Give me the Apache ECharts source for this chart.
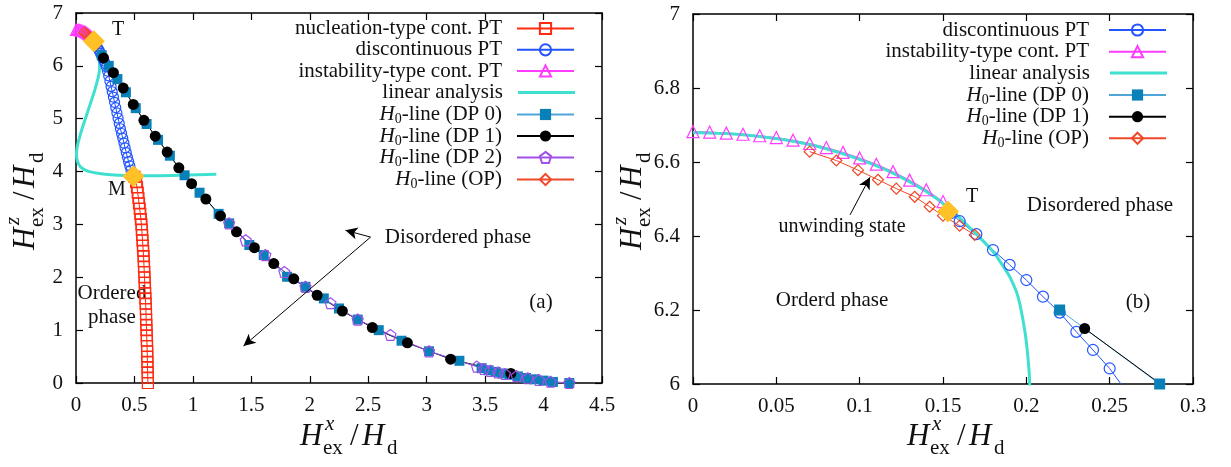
<!DOCTYPE html>
<html>
<head>
<meta charset="utf-8">
<script src="https://cdn.jsdelivr.net/npm/echarts@6/dist/echarts.min.js"></script>
<style>html,body{margin:0;padding:0;background:#fff}#c{width:1231px;height:467px}</style>
</head>
<body>
<div id="c"></div>
<script>
// ---------------- data ----------------
const nucleationPT = [[0.500,3.9],[0.515,3.8],[0.522,3.7],[0.528,3.6],[0.534,3.5],[0.539,3.4],[0.545,3.3],[0.550,3.2],[0.555,3.1],[0.560,3.0],[0.563,2.9],[0.566,2.8],[0.569,2.7],[0.572,2.6],[0.575,2.5],[0.578,2.4],[0.580,2.3],[0.582,2.2],[0.584,2.1],[0.586,2.0],[0.588,1.9],[0.590,1.8],[0.592,1.7],[0.594,1.6],[0.596,1.5],[0.598,1.4],[0.599,1.3],[0.600,1.2],[0.602,1.1],[0.603,1.0],[0.605,0.9],[0.606,0.8],[0.608,0.7],[0.609,0.6],[0.610,0.5],[0.611,0.4],[0.612,0.3],[0.613,0.2],[0.614,0.1],[0.615,0.0]];
const discontinuousPT = [[0.155,6.462],[0.16,6.44],[0.17,6.405],[0.18,6.362],[0.19,6.322],[0.20,6.281],[0.21,6.236],[0.22,6.193],[0.23,6.141],[0.24,6.092],[0.25,6.042],[0.26,5.98],[0.27,5.90],[0.28,5.81],[0.29,5.71],[0.30,5.61],[0.31,5.51],[0.32,5.41],[0.33,5.31],[0.34,5.21],[0.35,5.11],[0.36,5.01],[0.37,4.91],[0.38,4.81],[0.39,4.72],[0.40,4.63],[0.41,4.54],[0.42,4.45],[0.43,4.36],[0.44,4.27],[0.45,4.19],[0.46,4.11],[0.47,4.03],[0.48,3.96],[0.49,3.91]];
const instabilityPT = [[0,6.682],[0.01,6.681],[0.02,6.678],[0.03,6.675],[0.04,6.671],[0.05,6.666],[0.06,6.659],[0.07,6.650],[0.08,6.639],[0.09,6.626],[0.10,6.611],[0.11,6.594],[0.12,6.574],[0.13,6.551],[0.14,6.525],[0.15,6.493]];
const linearAnalysis = [[0,6.680],[0.02,6.677],[0.04,6.669],[0.06,6.656],[0.08,6.636],[0.10,6.607],[0.12,6.570],[0.14,6.520],[0.155,6.470],[0.17,6.405],[0.18,6.358],[0.185,6.326],[0.19,6.29],[0.195,6.236],[0.199,6.146],[0.201,6.07],[0.202,6.0],[0.200,5.9],[0.192,5.8],[0.178,5.68],[0.155,5.5],[0.125,5.3],[0.095,5.1],[0.068,4.92],[0.042,4.74],[0.022,4.58],[0.009,4.45],[0.004,4.33],[0.012,4.2],[0.038,4.09],[0.1,4.01],[0.2,3.965],[0.3,3.94],[0.49,3.92],[0.7,3.92],[0.9,3.93],[1.2,3.95]];
const h0DP0 = [[0.22,6.2],[0.28,6.0],[0.354,5.75],[0.427,5.5],[0.511,5.2],[0.604,4.9],[0.702,4.6],[0.803,4.3],[0.929,3.93],[1.057,3.6],[1.22,3.2],[1.31,3.02],[1.483,2.61],[1.606,2.42],[1.806,2.01],[1.963,1.82],[2.12,1.6],[2.25,1.41],[2.41,1.2],[2.59,1.0],[2.785,0.8],[3.02,0.6],[3.28,0.42],[3.47,0.28],[3.53,0.24],[3.59,0.21],[3.65,0.18],[3.71,0.155],[3.78,0.125],[3.85,0.095],[3.92,0.07],[4.0,0.045],[4.08,0.02],[4.22,0.0]];
const h0DP1 = [[0.235,6.15],[0.32,5.87],[0.404,5.58],[0.49,5.27],[0.581,4.97],[0.678,4.67],[0.78,4.37],[0.88,4.07],[0.989,3.77],[1.111,3.48],[1.236,3.16],[1.373,2.86],[1.526,2.56],[1.692,2.26],[1.863,1.97],[2.063,1.66],[2.279,1.36],[2.535,1.05],[2.835,0.76],[3.205,0.45],[3.72,0.18]];
const h0DP2 = [[1.31,3.02],[1.452,2.70],[1.62,2.42],[1.782,2.10],[1.963,1.82],[2.177,1.51],[2.41,1.20],[2.69,0.91],[3.02,0.60],[3.43,0.31],[3.49,0.265],[3.545,0.23],[3.61,0.20],[3.67,0.17],[3.77,0.13],[3.865,0.09],[3.96,0.057],[4.06,0.025],[4.22,0.0]];
const h0OP = [[0.070,6.628],[0.086,6.604],[0.099,6.578],[0.111,6.552],[0.122,6.528],[0.133,6.506],[0.142,6.479],[0.150,6.455],[0.160,6.428],[0.169,6.403]];
const pointT = [[0.153,6.466]];
const pointM = [[0.492,3.91]];
const arrowsA = [[[2.52,2.76],[2.305,2.89]],[[2.52,2.76],[1.433,0.70]]];
const arrowsB = [[[0.0942,6.457],[0.1062,6.559]]];

const axisA = {xMin:0, xMax:4.5, xStep:0.5, yMin:0, yMax:7, yStep:1};
const axisB = {xMin:0, xMax:0.3, xStep:0.05, yMin:6, yMax:7, yStep:0.2};

const legendA = ['nucleation-type cont. PT','discontinuous PT','instability-type cont. PT','linear analysis','H0-line (DP 0)','H0-line (DP 1)','H0-line (DP 2)','H0-line (OP)'];
const legendB = ['discontinuous PT','instability-type cont. PT','linear analysis','H0-line (DP 0)','H0-line (DP 1)','H0-line (OP)'];

// ---------------- styling ----------------
const FONT = "'Liberation Serif','DejaVu Serif',serif";
const C = {nuc:'#ff2a10', disc:'#2255ff', inst:'#ff3cff', lin:'#40e0d0', dp0:'#0a80b8', dp0l:'#4ea6d8', dp1:'#000000', dp2:'#a050e8', op:'#f04828', gold:'#ffc125'};
const PENT = 'path://M0,-10L9.51,-3.09L5.88,8.09L-5.88,8.09L-9.51,-3.09Z';
const CLEAR = 'rgba(255,255,255,0)';

function xAx(g, a, pos, lab){
  return {type:'value', gridIndex:g, position:pos, min:a.xMin, max:a.xMax, interval:a.xStep,
    axisLine:{show:true, onZero:false, lineStyle:{color:'#000', width:1.5}},
    axisTick:{show:true, inside:true, length:7, lineStyle:{color:'#000', width:1.2}},
    axisLabel:{show:lab, margin:12, color:'#111', fontFamily:FONT, fontSize:21, showMinLabel:true, showMaxLabel:true},
    splitLine:{show:false}};
}
function yAx(g, a, pos, lab){
  return {type:'value', gridIndex:g, position:pos, min:a.yMin, max:a.yMax, interval:a.yStep,
    axisLine:{show:true, onZero:false, lineStyle:{color:'#000', width:1.5}},
    axisTick:{show:true, inside:true, length:7, lineStyle:{color:'#000', width:1.2}},
    axisLabel:{show:lab, margin:13, color:'#111', fontFamily:FONT, fontSize:21, showMinLabel:true, showMaxLabel:true},
    splitLine:{show:false}};
}

function ser(name, data, g, o){
  return Object.assign({type:'line', name:name, data:data, xAxisIndex:g, yAxisIndex:g, clip:true,
    animation:false, silent:true, emphasis:{disabled:true}}, o);
}
function hollow(name, data, g, sym, size, col, lineCol){
  return ser(name, data, g, {symbol:sym, symbolSize:size, showAllSymbol:true,
    lineStyle:{color:lineCol||col, width:1},
    itemStyle:{color:CLEAR, borderColor:col, borderWidth:1.2}});
}
function filled(name, data, g, sym, size, col, lineCol){
  return ser(name, data, g, {symbol:sym, symbolSize:size, showAllSymbol:true,
    lineStyle:{color:lineCol||col, width:1},
    itemStyle:{color:col, borderWidth:0}});
}
function linear(g){
  return ser('linear analysis', linearAnalysis, g, {symbol:'none', smooth:0.2, lineStyle:{color:C.lin, width:3}, itemStyle:{color:C.lin}});
}
function gold(data, g){
  return ser('_gold'+g+data[0][0], data, g, {symbol:'diamond', symbolSize:22, lineStyle:{width:0}, itemStyle:{color:C.gold}, z:5});
}
function arrows(list, g){
  return ser('_arrows'+g, [], g, {symbol:'none', markLine:{silent:true, animation:false, symbol:['none','arrow'], symbolSize:[9,12],
    label:{show:false}, lineStyle:{color:'#000', width:1, type:'solid'},
    data:list.map(p=>[{coord:p[0]},{coord:p[1]}])}});
}

const series = [
  // panel (a)
  hollow('nucleation-type cont. PT', nucleationPT, 0, 'rect', 11, C.nuc),
  hollow('discontinuous PT', discontinuousPT, 0, 'circle', 10, C.disc),
  hollow('instability-type cont. PT', instabilityPT, 0, 'triangle', 11, C.inst),
  linear(0),
  filled('H0-line (DP 0)', h0DP0, 0, 'rect', 10, C.dp0, C.dp0l),
  filled('H0-line (DP 1)', h0DP1, 0, 'circle', 11, C.dp1),
  hollow('H0-line (DP 2)', h0DP2, 0, PENT, 11, C.dp2),
  hollow('H0-line (OP)', h0OP, 0, 'diamond', 11, C.op),
  gold(pointT, 0), gold(pointM, 0),
  arrows(arrowsA, 0),
  // panel (b)
  hollow('discontinuous PT', discontinuousPT, 1, 'circle', 11, C.disc),
  hollow('instability-type cont. PT', instabilityPT, 1, 'triangle', 12, C.inst),
  linear(1),
  filled('H0-line (DP 0)', h0DP0, 1, 'rect', 11, C.dp0, C.dp0l),
  filled('H0-line (DP 1)', h0DP1, 1, 'circle', 11, C.dp1),
  hollow('H0-line (OP)', h0OP, 1, 'diamond', 11, C.op),
  gold(pointT, 1),
  arrows(arrowsB, 1)
];

function fmt(name){
  return name.indexOf('H0') === 0 ? '{i|H}{s|0}' + name.slice(2) : name;
}
const rich = {
  i:{fontFamily:FONT, fontStyle:'italic', fontSize:21, color:'#111', lineHeight:22},
  s:{fontFamily:FONT, fontSize:14, color:'#111', padding:[10,0,0,0]}
};
function legends(names, rightPx, tops, padR){
  return names.map((n,k)=>{
    const isLin = n === 'linear analysis';
    return {
      data:[isLin ? {name:n, icon:'rect'} : n], orient:'horizontal', align:'right', right:rightPx, top:tops[k]-11,
      itemWidth:57, itemHeight:isLin ? 3 : 14, padding:0, selectedMode:false,
      formatter:fmt,
      textStyle:{fontFamily:FONT, fontSize:21, color:'#111', lineHeight:22, padding:[0,padR,0,0], rich:rich}
    };
  });
}
const legendTopsA = [28.5,49.8,71,92.5,114.5,136,157.5,179.5];
const legendTopsB = [30,51.7,73,95,116.7,138.3];

// annotation text (pixel layout)
function T(text, x, y, size, italic, align){
  return {type:'text', x:x, y:y, silent:true, style:{text:text, fontFamily:FONT, fontSize:size, fontStyle:italic?'italic':'normal',
    fill:'#111', align:align||'center', verticalAlign:'middle', textAlign:align||'center', textVerticalAlign:'middle'}};
}
function axisTitle(x, y, rot, sup){
  return {type:'group', x:x, y:y, rotation:rot, silent:true, children:[
    T('H', 0, 0, 31, true, 'left'),
    T(sup, 25, -13, 21, true, 'left'),
    T('ex', 23, 11, 21, false, 'left'),
    T('/', 50, 0, 31, false, 'left'),
    T('H', 62, 0, 31, true, 'left'),
    T('d', 87, 11, 21, false, 'left')
  ]};
}

const graphic = [
  T('T', 118, 30, 20), T('M', 117, 190, 20),
  T('Ordered', 112, 293, 21), T('phase', 112, 317, 21),
  T('Disordered phase', 458, 237, 21), T('(a)', 541, 302, 21),
  T('T', 972, 197, 20), T('Disordered phase', 1100, 205, 21), T('(b)', 1138, 302, 21),
  T('Orderd phase', 832, 300, 21), T('unwinding state', 842, 227, 20),
  axisTitle(300, 437, 0, 'x'), axisTitle(907, 437, 0, 'x'),
  axisTitle(26, 250, Math.PI/2, 'z'), axisTitle(633, 250, Math.PI/2, 'z')
];

const option = {
  animation:false,
  backgroundColor:'#fff',
  grid:[
    {left:76, right:629, top:13, bottom:84, outerBoundsMode:'none'},
    {left:693, right:38, top:14, bottom:83, outerBoundsMode:'none'}
  ],
  xAxis:[xAx(0,axisA,'bottom',true), xAx(1,axisB,'bottom',true), xAx(0,axisA,'top',false), xAx(1,axisB,'top',false)],
  yAxis:[yAx(0,axisA,'left',true), yAx(1,axisB,'left',true), yAx(0,axisA,'right',false), yAx(1,axisB,'right',false)],
  legend: legends(legendA, 1231-575, legendTopsA, 10).concat(legends(legendB, 1231-1167, legendTopsB, 15)),
  series: series,
  graphic: graphic
};
const chart = echarts.init(document.getElementById('c'), null, {renderer:'canvas'});
chart.setOption(option);
</script>
</body>
</html>
